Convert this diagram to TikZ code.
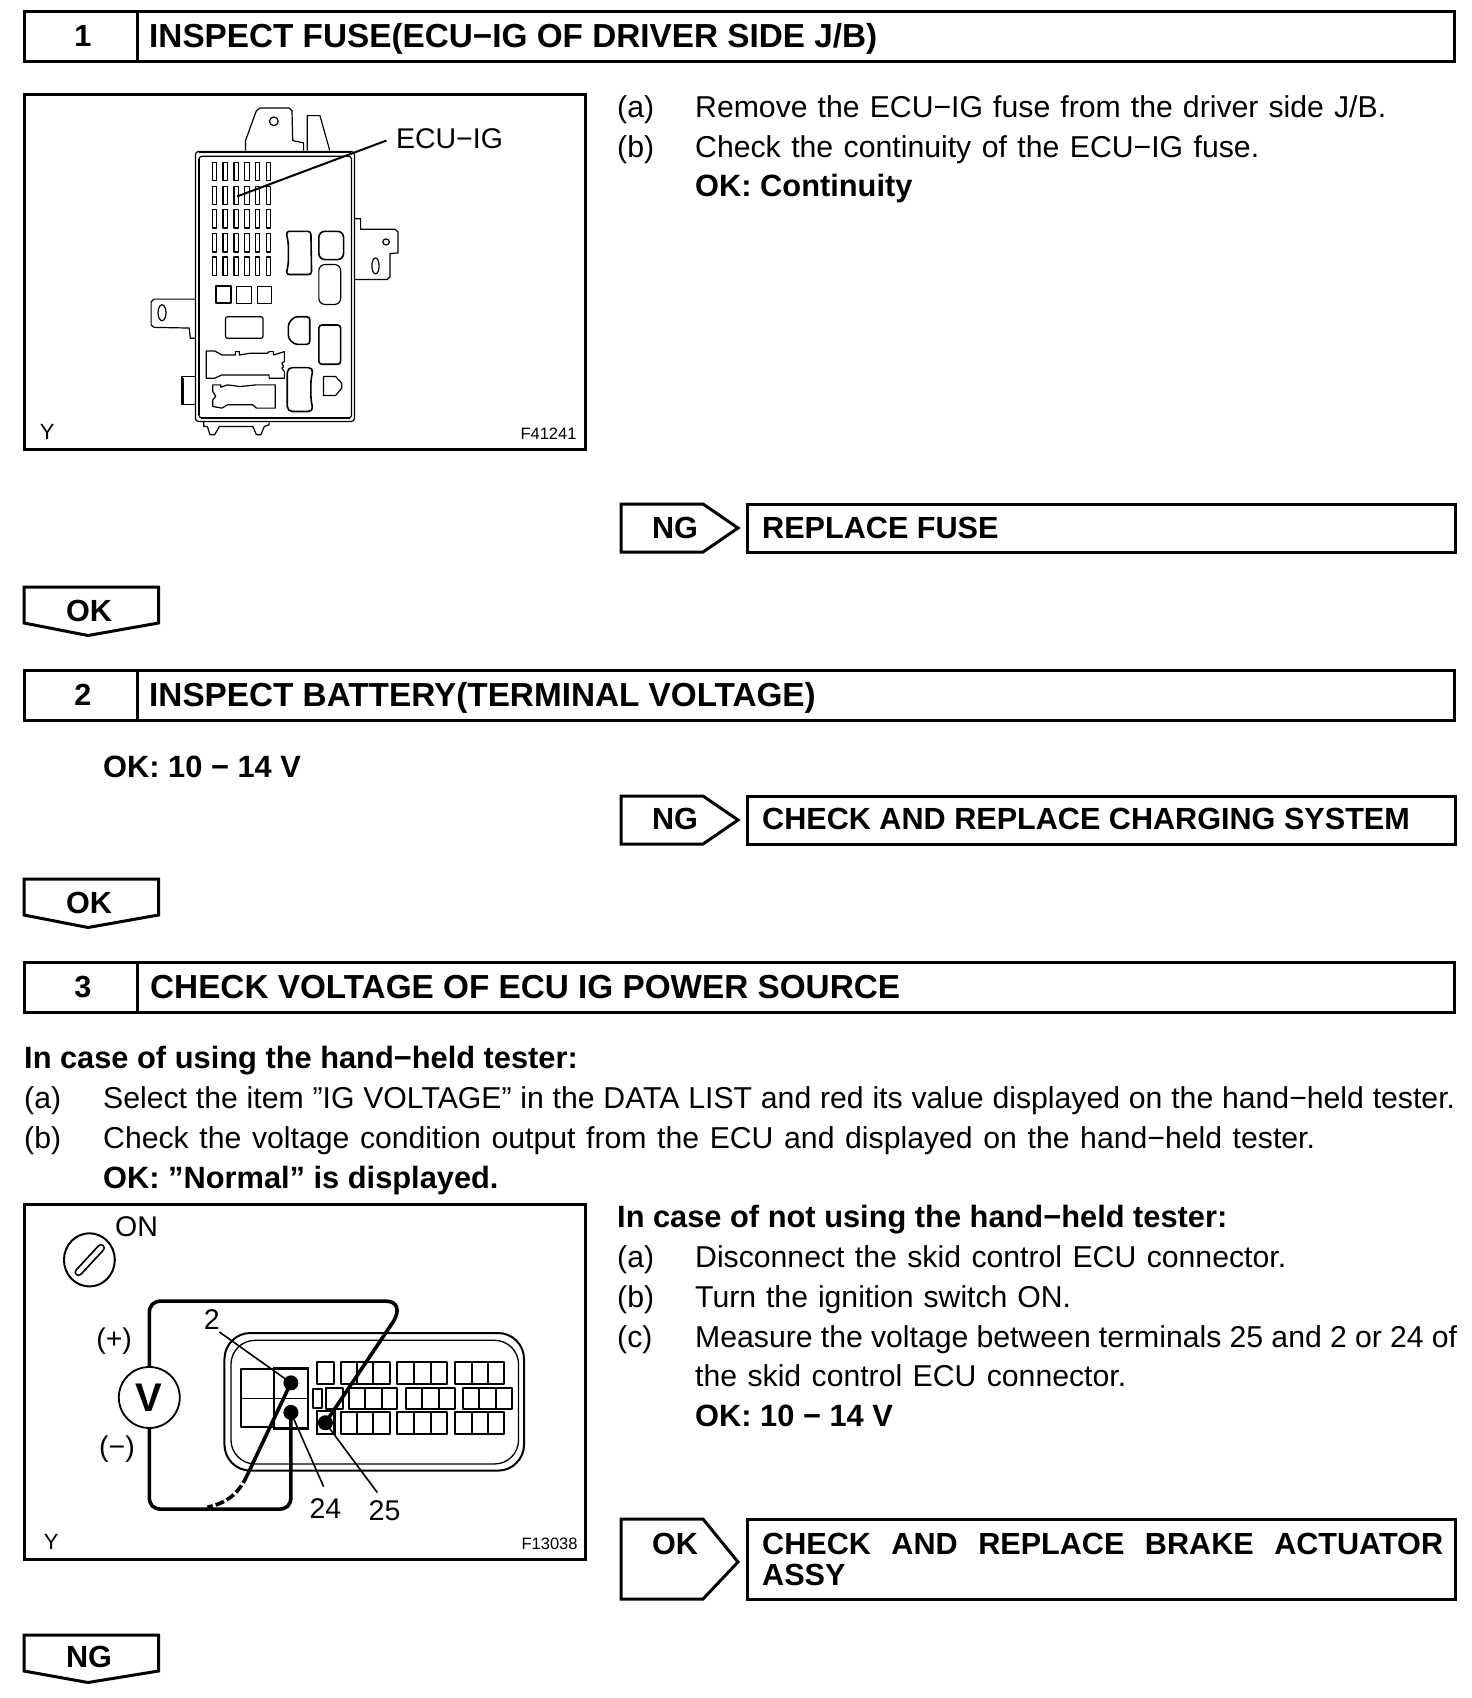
\documentclass[tikz,border=0pt]{standalone}
\usepackage{fontspec}
\setmainfont{Liberation Sans}
\newcommand{\bodyf}{\fontsize{30.2}{32}\selectfont}
\newcommand{\figf}{\fontsize{28.5}{30}\selectfont}
\newcommand{\headf}{\fontsize{33.3}{35}\bfseries\selectfont}
\newcommand{\boldf}{\fontsize{30.8}{33}\bfseries\selectfont}
\newcommand{\tagf}{\fontsize{30.6}{33}\bfseries\selectfont}
\tikzset{
  txt/.style={anchor=base west,inner sep=0pt,font=\bodyf},
  btxt/.style={anchor=base west,inner sep=0pt,font=\boldf},
  htxt/.style={anchor=base west,inner sep=0pt,font=\headf},
  ctag/.style={anchor=base,inner sep=0pt,font=\tagf},
  frm/.style={draw=black,line width=3pt,line join=miter},
  art/.style={draw=black,line width=1.2pt,line join=round},
  artb/.style={draw=black,line width=2pt,line join=round},
  wire/.style={draw=black,line width=3.6pt,line join=round},
  lead/.style={draw=black,line width=1.6pt},
  figt/.style={anchor=base,inner sep=0pt,font=\figf},
  small/.style={anchor=base,inner sep=0pt,font=\fontsize{16.5}{18}\selectfont},
  draw scale/.style={x=0.3631pt,y=-0.3324pt}
}
\begin{document}
\begin{tikzpicture}[x=1pt,y=-1pt]
\useasboundingbox (0,0) rectangle (1472,1698);
\fill[white] (0,0) rectangle (1472,1698);
% Headers
\draw[frm] (24,11) rectangle (1454,61);
\draw[frm] (137.6,11) -- (137.6,61);
\node[ctag] (n1) at (83,46) {1};
\node[htxt] (h1) at (149,47) {INSPECT FUSE(ECU−IG OF DRIVER SIDE J/B)};
\draw[frm] (24,670.5) rectangle (1454,720.5);
\draw[frm] (137.6,670.5) -- (137.6,720.5);
\node[ctag] (n2) at (83,705) {2};
\node[htxt] (h2) at (149,706) {INSPECT BATTERY(TERMINAL VOLTAGE)};
\draw[frm] (24,962) rectangle (1454,1012);
\draw[frm] (137.6,962) -- (137.6,1012);
\node[ctag] (n3) at (83,997) {3};
\node[htxt] (h3) at (150,998) {CHECK VOLTAGE OF ECU IG POWER SOURCE};
% Section 1 text
\node[txt] (a1) at (617,117) {(a)};
\node[txt] (a1t) at (695,117) {\makebox[691pt][s]{Remove the ECU−IG fuse from the driver side J/B.}};
\node[txt] (b1) at (617,157) {(b)};
\node[txt] (b1t) at (695,157) {\makebox[564pt][s]{Check the continuity of the ECU−IG fuse.}};
\node[btxt] (ok1) at (695,196) {OK: Continuity};
% NG 1
\draw[frm] (621,504) -- (703,504) -- (738,528) -- (703,552) -- (621,552) -- cycle;
\node[ctag] (ng1) at (675,538) {NG};
\draw[frm] (747,504) rectangle (1455,552);
\node[btxt,font=\tagf] (ng1t) at (762,538) {REPLACE FUSE};
% OK 1
\draw[frm] (24,587) -- (158.5,587) -- (158.5,623) -- (88,635.5) -- (24,623) -- cycle;
\node[ctag] (okd1) at (89,621) {OK};
% Section 2
\node[btxt] (ok2) at (103,777) {OK: 10 − 14 V};
\draw[frm] (621,796) -- (703,796) -- (738,820) -- (703,844) -- (621,844) -- cycle;
\node[ctag] (ng2) at (675,829) {NG};
\draw[frm] (747,796) rectangle (1455,844);
\node[btxt,font=\tagf] (ng2t) at (762,829) {CHECK AND REPLACE CHARGING SYSTEM};
\draw[frm] (24,879) -- (158.5,879) -- (158.5,915) -- (88,927.5) -- (24,915) -- cycle;
\node[ctag] (okd2) at (89,913) {OK};
% Section 3 text
\node[btxt] (c0) at (24,1068) {In case of using the hand−held tester:};
\node[txt] (ca) at (24,1108) {(a)};
\node[txt] (cat) at (103,1108) {\makebox[1352pt][s]{Select the item ”IG VOLTAGE” in the DATA LIST and red its value displayed on the hand−held tester.}};
\node[txt] (cb) at (24,1148) {(b)};
\node[txt] (cbt) at (103,1148) {\makebox[1212pt][s]{Check the voltage condition output from the ECU and displayed on the hand−held tester.}};
\node[btxt] (cok) at (103,1188) {OK: ”Normal” is displayed.};
\node[btxt] (d0) at (617,1227) {In case of not using the hand−held tester:};
\node[txt] (da) at (617,1267) {(a)};
\node[txt] (dat) at (695,1267) {\makebox[591pt][s]{Disconnect the skid control ECU connector.}};
\node[txt] (db) at (617,1307) {(b)};
\node[txt] (dbt) at (695,1307) {\makebox[376pt][s]{Turn the ignition switch ON.}};
\node[txt] (dc) at (617,1347) {(c)};
\node[txt] (dct) at (695,1347) {\makebox[762pt][s]{Measure the voltage between terminals 25 and 2 or 24 of}};
\node[txt] (dct2) at (695,1386) {\makebox[431pt][s]{the skid control ECU connector.}};
\node[btxt] (dok) at (695,1426) {OK: 10 − 14 V};
% OK 3
\draw[frm] (621,1519) -- (703,1519) -- (738,1562) -- (703,1599) -- (621,1599) -- cycle;
\node[ctag] (ok3) at (675,1554) {OK};
\draw[frm] (747,1519) rectangle (1455,1599);
\node[btxt,font=\tagf] (ok3t) at (762,1554) {\makebox[681pt][s]{CHECK AND REPLACE BRAKE ACTUATOR}};
\node[btxt,font=\tagf] (ok3u) at (762,1585) {ASSY};
% NG down
\draw[frm] (24,1635) -- (158.5,1635) -- (158.5,1671) -- (88,1682.5) -- (24,1671) -- cycle;
\node[ctag] (ngd) at (89,1667) {NG};
% Frames
\draw[frm] (24,94) rectangle (585,449);
\draw[frm] (24,1204) rectangle (585,1559);
% Fuse box
\begin{scope}[shift={(20.4,90.7)},draw scale]
  \draw[art,rounded corners=3pt] (482,183) rectangle (920,995);
  \draw[art,rounded corners=3pt] (492,197) rectangle (912,985);
  \draw[artb] (492,183) -- (910,183);
  \draw[artb] (497,985) -- (907,985);
  \draw[artb] (492,205) -- (492,975);
  \draw[art] (620,180) -- (620,150) -- (650,60) -- (660,52) -- (740,52) -- (748,60) -- (750,150) -- (780,157) -- (780,180);
  \draw[art] (790,180) -- (790,75) -- (825,75) -- (852,180);
  \draw[art] (698,92) circle [x radius=12,y radius=13];
  \draw[art] (920,385) -- (937,385) -- (937,417) -- (1032,417) -- (1040,425) -- (1040,488) -- (1018,490) -- (1018,560) -- (1010,568) -- (920,568);
  \draw[art] (1007,455) circle [x radius=9,y radius=9];
  \draw[art] (978,527) ellipse [x radius=10,y radius=24];
  \draw[art] (482,627) -- (368,627) -- (360,635) -- (360,705) -- (368,712) -- (465,714) -- (468,745) -- (482,745);
  \draw[art] (390,668) ellipse [x radius=11,y radius=24];
  \draw[art] (482,860) -- (445,860) -- (445,945) -- (482,945);
  \draw[artb] (448,865) -- (448,945);
  \draw[art] (505,995) -- (505,1010) -- (515,1010) -- (522,1035) -- (535,1035) -- (548,1010) -- (640,1010) -- (650,1035) -- (662,1035) -- (672,1010) -- (685,1005) -- (685,995);
  \foreach \c in {535,564,594,624,653,683}
    \foreach \r in {215,287,358,430,500}
      \draw[art] (\c-6,\r) rectangle (\c+6,\r+55);
  \draw[artb] (538,588) rectangle (580,640);
  \draw[art] (595,588) rectangle (636,640);
  \draw[art] (652,588) rectangle (692,640);
  \draw[art,rounded corners=2pt] (565,680) rectangle (668,745);
  \draw[art,line width=1.6pt,rounded corners=3pt] (732,423) -- (800,423) -- (802,553) -- (732,553) -- (738,520) -- (738,460) -- cycle;
  \draw[art,line width=1.6pt,rounded corners=6pt] (822,423) rectangle (890,508);
  \draw[art,rounded corners=6pt] (822,523) -- (882,523) -- (882,643) -- (822,643) -- cycle;
  \draw[art,line width=1.6pt,rounded corners=3pt] (738,700) -- (755,680) -- (797,680) -- (797,763) -- (755,763) -- (738,745) -- cycle;
  \draw[art,line width=1.6pt,rounded corners=3pt] (822,705) -- (882,705) -- (882,823) -- (822,823) -- cycle;
  \draw[art] (512,783) -- (535,783) -- (555,795) -- (592,795) -- (592,785) -- (603,785) -- (603,795) -- (632,790) -- (680,790) -- (685,785) -- (697,785) -- (697,795) -- (727,785) -- (727,815) -- (720,820) -- (725,830) -- (720,835) -- (727,845) -- (727,865) -- (685,865) -- (685,855) -- (632,855) -- (555,855) -- (535,865) -- (512,865) -- cycle;
  \draw[art] (530,885) -- (552,885) -- (552,892) -- (570,885) -- (605,890) -- (650,885) -- (702,885) -- (702,955) -- (650,955) -- (640,945) -- (570,945) -- (555,955) -- (530,950) -- (530,930) -- (538,920) -- (530,905) -- cycle;
  \draw[art,line width=1.6pt,rounded corners=5pt] (735,833) -- (807,833) -- (800,870) -- (800,930) -- (807,965) -- (735,965) -- cycle;
  \draw[art] (835,860) -- (868,860) -- (885,880) -- (885,895) -- (868,917) -- (835,917) -- cycle;
  \coordinate (fusetip) at (597,318);
  \coordinate (fuselab) at (1008,150);
  \draw[draw=black,line width=2pt] (fuselab) -- (fusetip);
  \node[anchor=base west,inner sep=0pt,font=\figf] (ecu) at (1034,175) {ECU−IG};
  \node[small,font=\fontsize{22}{24}\selectfont] (y1) at (74,1050) {Y};
  \node[small,anchor=base east] (f1) at (1532,1050) {F41241};
\end{scope}
% Voltage figure
\begin{scope}[shift={(20.4,1200.7)},draw scale]
  \node[figt] (on) at (320,108) {ON};
  \draw[art,line width=2pt] (190,178) ellipse [x radius=70,y radius=80];
  \coordinate (k1) at (160,215);
  \coordinate (k2) at (222,142);
  \draw[line width=1.8pt,double=white,double distance=4.5pt,line cap=round] (k1) -- (k2);
  % connector
  \draw[artb,rounded corners=26pt] (562,398) rectangle (1387,812);
  \draw[art,line width=1.3pt,rounded corners=24pt] (580,420) rectangle (1372,792);
  \draw[artb] (608,505) rectangle (698,682);
  \draw[art] (608,595) -- (792,595);
  \draw[line width=2.4pt] (698,505) rectangle (792,685);
  \draw[artb] (817,485) rectangle (865,550);
  \foreach \xa/\xb/\xc/\xd in {882/928/972/1018,1038/1085/1130/1175,1197/1243/1287/1333}{
    \draw[artb] (\xa,485) rectangle (\xd,550);
    \draw[artb] (\xb,485) -- (\xb,550) (\xc,485) -- (\xc,550);
    \draw[artb] (\xa,637) rectangle (\xd,702);
    \draw[artb] (\xb,637) -- (\xb,702) (\xc,637) -- (\xc,702);
  }
  \draw[artb] (805,565) rectangle (830,625);
  \draw[artb] (843,563) rectangle (888,628);
  \foreach \xa/\xb/\xc/\xd in {905/950/995/1038,1062/1107/1152/1197,1218/1264/1310/1353}{
    \draw[artb] (\xa,563) rectangle (\xd,628);
    \draw[artb] (\xb,563) -- (\xb,628) (\xc,563) -- (\xc,628);
  }
  \draw[line width=2.4pt] (817,633) rectangle (865,702);
  % probes
  \node[circle,fill=black,minimum size=15pt,inner sep=0pt] (p2) at (745,548) {};
  \node[circle,fill=black,minimum size=15pt,inner sep=0pt] (p24) at (745,637) {};
  \node[circle,fill=black,minimum size=15pt,inner sep=0pt] (p25) at (840,668) {};
  % meter
  \node[circle,draw=black,line width=1.8pt,minimum size=61pt,inner sep=0pt,fill=white,font=\fontsize{40}{40}\bfseries\selectfont] (vm) at (355,592) {V};
  \coordinate (dj) at (515,922);
  \draw[wire] (vm.north) -- (355,340) .. controls (355,315) and (365,302) .. (390,302) -- (1005,302) .. controls (1040,302) and (1045,330) .. (1028,362) -- (p25.center);
  \draw[wire] (vm.south) -- (355,890) .. controls (355,915) and (365,928) .. (390,928) -- (710,928) .. controls (735,928) and (745,915) .. (745,890) -- (p24.center);
  \draw[wire] (p2.center) -- (625,825);
  \draw[wire,dash pattern=on 9pt off 3pt] (625,825) .. controls (600,885) and (565,910) .. (dj);
  % labels
  \node[figt] (lp) at (258,445) {(+)};
  \node[figt] (lm) at (266,768) {(−)};
  \node[figt] (l2) at (527,388) {2};
  \node[figt] (l24) at (840,955) {24};
  \node[figt] (l25) at (1003,962) {25};
  \coordinate (e2) at (548,395);
  \coordinate (e24) at (835,860);
  \coordinate (e25) at (983,878);
  \draw[lead] (e2) -- (p2.center);
  \draw[lead] (e24) -- (p24.center);
  \draw[lead] (e25) -- (p25.center);
  \node[small,font=\fontsize{22}{24}\selectfont] (y2) at (85,1048) {Y};
  \node[small,anchor=base east] (f2) at (1535,1048) {F13038};
\end{scope}
\end{tikzpicture}
\end{document}
